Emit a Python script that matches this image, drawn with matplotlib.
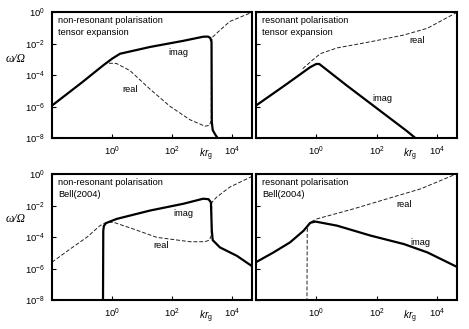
import matplotlib
matplotlib.use('Agg')
import matplotlib.pyplot as plt
import numpy as np

plt.rcParams['font.family'] = ['Liberation Sans', 'DejaVu Sans']
plt.rcParams['mathtext.fontset'] = 'custom'
plt.rcParams['mathtext.rm'] = 'Liberation Sans'
plt.rcParams['mathtext.it'] = 'Liberation Sans:italic'

# values are log10(k r_g) and log10(omega / Omega)
# top-left: non-resonant, tensor expansion
a_imag_x = [-2.0, -1.0, -0.3, 0.0, 0.27, 1.27, 2.38, 3.04, 3.2, 3.28, 3.32, 3.33, 3.36, 3.45, 3.54]
a_imag_y = [-5.94, -4.47, -3.4, -2.97, -2.65, -2.22, -1.83, -1.57, -1.56, -1.65, -1.9, -7.0, -7.5, -7.8, -8.05]
a_real_x = [-0.1, 0.15, 0.6, 1.27, 1.93, 2.6, 3.1, 3.25, 3.31, 3.32, 3.35, 3.49, 3.93, 4.67]
a_real_y = [-3.25, -3.27, -3.72, -4.9, -5.98, -6.84, -7.25, -7.2, -6.9, -1.9, -1.6, -1.35, -0.6, -0.02]

# top-right: resonant, tensor expansion
b_imag_x = [-2.0, -1.0, -0.2, 0.0, 0.1, 1.0, 2.0, 3.0, 3.32]
b_imag_y = [-5.94, -4.6, -3.5, -3.3, -3.3, -4.65, -6.1, -7.55, -8.05]
b_real_x = [-0.45, -0.14, 0.13, 0.69, 1.8, 2.91, 3.69, 4.67]
b_real_y = [-3.6, -3.08, -2.65, -2.28, -1.89, -1.46, -1.03, -0.02]

# bottom-left: non-resonant, Bell(2004)
c_imag_x = [-0.3, -0.29, -0.27, -0.2, -0.07, 0.16, 1.27, 2.38, 3.04, 3.22, 3.3, 3.33, 3.36, 3.6, 4.16, 4.67]
c_imag_y = [-8.5, -3.6, -3.3, -3.12, -3.02, -2.85, -2.32, -1.89, -1.57, -1.6, -1.8, -3.6, -4.2, -4.66, -5.19, -5.85]
c_real_x = [-2.0, -1.4, -0.84, -0.4, -0.2, 0.04, 0.71, 1.49, 2.6, 3.1, 3.25, 3.31, 3.33, 3.49, 3.93, 4.67]
c_real_y = [-5.6, -4.77, -4.02, -3.28, -3.08, -3.06, -3.49, -4.02, -4.3, -4.3, -4.2, -3.9, -1.8, -1.47, -0.83, -0.15]

# bottom-right: resonant, Bell(2004)
d_imag_x = [-2.0, -1.42, -0.87, -0.42, -0.2, -0.03, 0.69, 1.8, 2.91, 3.69, 4.67]
d_imag_y = [-5.6, -4.98, -4.34, -3.6, -3.1, -3.02, -3.28, -3.91, -4.45, -4.98, -5.9]
d_real_x = [-0.31, -0.3, -0.27, -0.2, 0.02, 1.24, 2.36, 3.47, 4.67]
d_real_y = [-8.5, -3.6, -3.25, -3.06, -2.85, -2.21, -1.57, -0.94, 0.02]

titles = ['non-resonant polarisation\ntensor expansion',
          'resonant polarisation\ntensor expansion',
          'non-resonant polarisation\nBell(2004)',
          'resonant polarisation\nBell(2004)']
# label positions (log10 x, log10 y) for "imag" and "real"
imag_pos = [(2.2, -2.55), (2.18, -5.52), (2.38, -2.5), (3.44, -4.34)]
real_pos = [(0.6, -4.92), (3.36, -1.8), (1.63, -4.56), (2.93, -1.92)]

series = [(a_imag_x, a_imag_y, a_real_x, a_real_y),
          (b_imag_x, b_imag_y, b_real_x, b_real_y),
          (c_imag_x, c_imag_y, c_real_x, c_real_y),
          (d_imag_x, d_imag_y, d_real_x, d_real_y)]

fig = plt.figure(figsize=(4.69, 3.29), dpi=100)
W, H = 469, 329
boxes = [(52, 12, 200, 126), (256, 12, 201, 126),
         (52, 174, 200, 126), (256, 174, 201, 126)]

for i, (ix, iy, rx, ry) in enumerate(series):
    l, t, w, h = boxes[i]
    ax = fig.add_axes([l / W, 1 - (t + h) / H, w / W, h / H])
    ax.plot(np.power(10.0, rx), np.power(10.0, ry), color='#222222',
            lw=0.7, dashes=(4, 2))
    ax.plot(np.power(10.0, ix), np.power(10.0, iy), color='black', lw=1.6,
            solid_joinstyle='round')
    ax.set_xscale('log')
    ax.set_yscale('log')
    ax.set_xlim(1e-2, 10 ** 4.67)
    ax.set_ylim(1e-8, 1)
    ax.set_xticks([1, 1e2, 1e4])
    ax.set_xticklabels(['$\\mathregular{10^{0}}$', '$\\mathregular{10^{2}}$',
                        '$\\mathregular{10^{4}}$'])
    ax.set_yticks([1, 1e-2, 1e-4, 1e-6, 1e-8])
    if i % 2 == 0:
        ax.set_yticklabels(['$\\mathregular{10^{%d}}$' % p for p in [0, -2, -4, -6, -8]])
    else:
        ax.set_yticklabels([])
    ax.minorticks_off()
    ax.tick_params(direction='in', length=3, width=0.8, labelsize=6.8, pad=5)
    for s in ax.spines.values():
        s.set_linewidth(1.5)

    ax.text(0.03, 0.965, titles[i], transform=ax.transAxes, ha='left', va='top',
            fontsize=6.7, linespacing=1.3)
    ax.text(10 ** imag_pos[i][0], 10 ** imag_pos[i][1], 'imag',
            ha='center', va='center', fontsize=6.7)
    ax.text(10 ** real_pos[i][0], 10 ** real_pos[i][1], 'real',
            ha='center', va='center', fontsize=6.7)
    ax.text(10 ** 3.12, -0.13, '$kr_{\\mathrm{g}}$', transform=ax.get_xaxis_transform(),
            ha='center', va='center', fontsize=7.2)

fig.text(16 / W, 1 - 59 / H, 'ω/Ω', family='Liberation Serif', style='italic',
         fontsize=8.5, ha='center', va='center')
fig.text(16 / W, 1 - 219 / H, 'ω/Ω', family='Liberation Serif', style='italic',
         fontsize=8.5, ha='center', va='center')

fig.savefig('out.png', dpi=100)
